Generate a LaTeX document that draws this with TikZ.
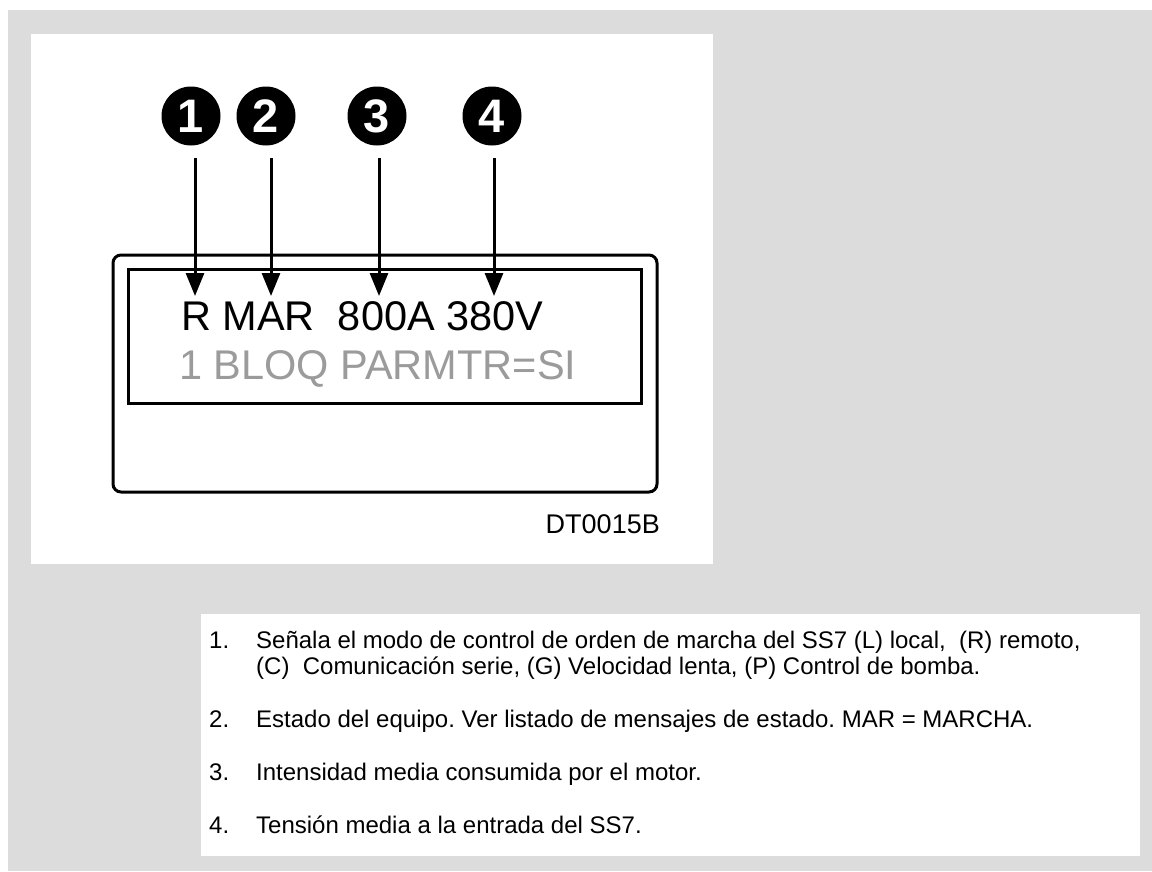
\documentclass[tikz,border=0pt]{standalone}
\usepackage{fontspec}
\setmainfont{Liberation Sans}
\usetikzlibrary{arrows.meta}
\frenchspacing
\definecolor{bggray}{RGB}{220,220,220}
\definecolor{dispgray}{RGB}{155,155,155}
\tikzset{
  numcirc/.style={circle, fill=black, minimum size=59pt, inner sep=0pt, text=white,
    font=\fontsize{47}{47}\selectfont\bfseries},
  pointer/.style={line width=3pt, -{Triangle[length=23pt,width=18pt]}},
  frame/.style={line width=3pt},
  disp/.style={inner sep=0pt, anchor=base west, font=\fontsize{41.5}{48}\selectfont},
  lt/.style={inner sep=0pt, anchor=base west, font=\fontsize{24}{28}\selectfont},
}
\begin{document}
\begin{tikzpicture}[x=1pt,y=-1pt]
\useasboundingbox (0,0) rectangle (1152,871);
% backgrounds
\fill[white] (0,0) rectangle (1152,871);
\fill[bggray] (8,10) rectangle (1152,871);
\fill[white] (31,34) rectangle (713,564);
\fill[white] (201,614) rectangle (1140,856);
% display frames
\draw[frame, rounded corners=8pt] (113,255) rectangle (657,492);
\draw[frame] (128,269) rectangle (641,403);
% circled numbers
\node[numcirc] (c1) at (191,116) {1};
\node[numcirc] (c2) at (266,116) {2};
\node[numcirc] (c3) at (377,116) {3};
\node[numcirc] (c4) at (492,116) {4};
% arrow coordinates
\coordinate (a1s) at (195,158); \coordinate (a1e) at (195,296);
\coordinate (a2s) at (271,158); \coordinate (a2e) at (271,296);
\coordinate (a3s) at (379,158); \coordinate (a3e) at (379,296);
\coordinate (a4s) at (494,158); \coordinate (a4e) at (494,296);
\draw[pointer] (a1s) -- (a1e);
\draw[pointer] (a2s) -- (a2e);
\draw[pointer] (a3s) -- (a3e);
\draw[pointer] (a4s) -- (a4e);
% display text
\node[disp] (row1) at (181,330) {R MAR\ \ 800A 380V};
\node[disp, text=dispgray] (row2) at (179,379) {1 BLOQ PARMTR=SI};
\node[inner sep=0pt, anchor=base east, font=\fontsize{27}{30}\selectfont] (code) at (660,533) {DT0015B};
% legend
\node[lt] (n1) at (209,648) {1.};
\node[lt] (t1a) at (256,648) {Señala el modo de control de orden de marcha del SS7 (L) local,\ \ (R) remoto,};
\node[lt] (t1b) at (256,674) {(C)\ \ Comunicación serie, (G) Velocidad lenta, (P) Control de bomba.};
\node[lt] (n2) at (209,727) {2.};
\node[lt] (t2) at (256,727) {Estado del equipo. Ver listado de mensajes de estado. MAR = MARCHA.};
\node[lt] (n3) at (209,780) {3.};
\node[lt] (t3) at (256,780) {Intensidad media consumida por el motor.};
\node[lt] (n4) at (209,833) {4.};
\node[lt] (t4) at (256,833) {Tensión media a la entrada del SS7.};
\end{tikzpicture}
\end{document}
